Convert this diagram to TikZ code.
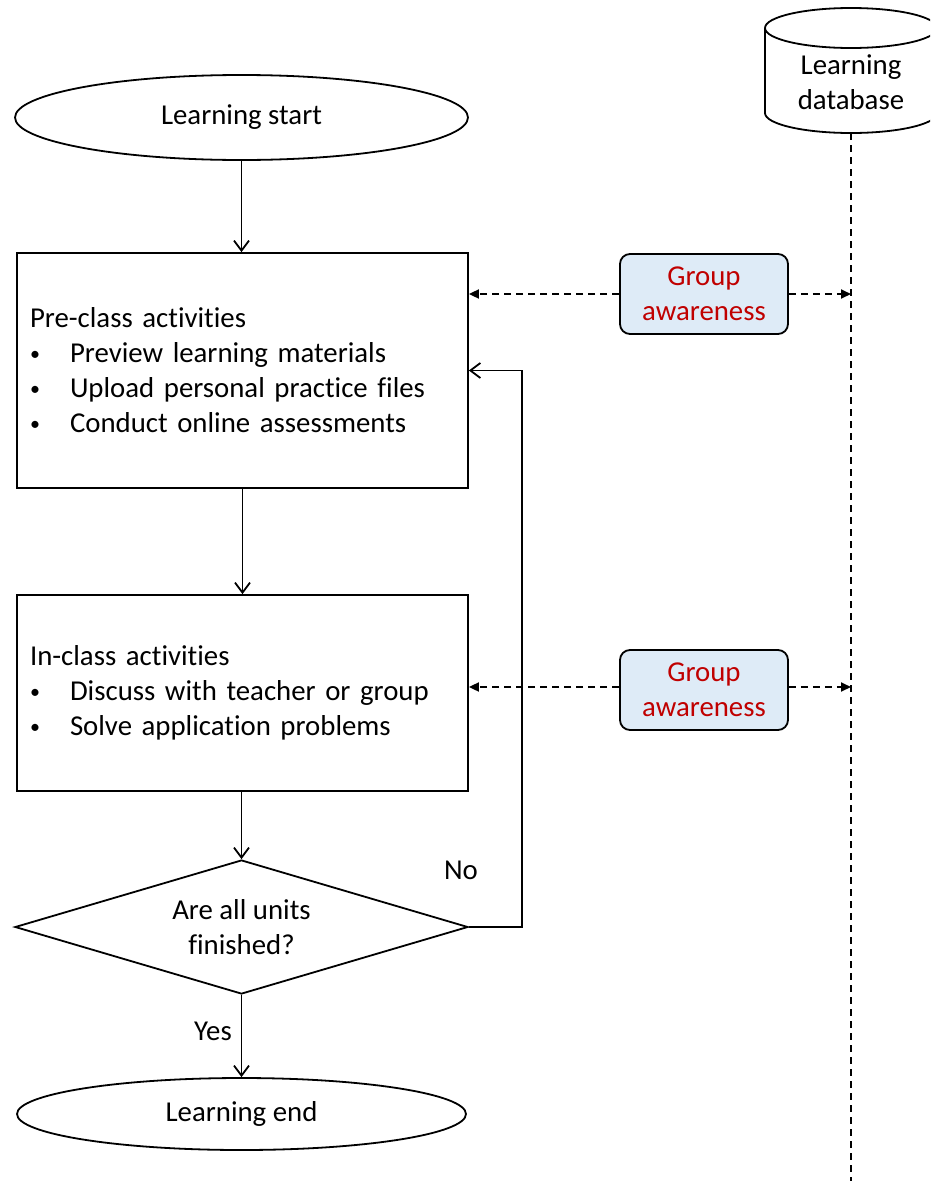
\documentclass[tikz,border=0pt]{standalone}
\usepackage{fontspec}
\setmainfont{Carlito}[Ligatures={NoCommon}]
\usetikzlibrary{arrows.meta,shapes.geometric}
\definecolor{gablue}{HTML}{DEEBF7}
\definecolor{gared}{HTML}{C00000}
\newcommand{\bitem}[1]{\\\hspace*{0pt}\makebox[40pt][l]{\raisebox{2.5pt}{\fontsize{20}{20}\selectfont •}}#1}
\begin{document}
\begin{tikzpicture}[x=1pt,y=-1pt,
  every node/.style={font=\fontsize{28.8}{35}\selectfont},
  lw/.style={line width=1.8pt},
  term/.style={draw,lw,ellipse,inner sep=0pt},
  actbox/.style={draw,lw,rectangle,minimum width=451,text width=425,inner xsep=13pt,align=left},
  decbox/.style={draw,lw,diamond,minimum width=453,minimum height=134,inner sep=0pt,aspect=3.4,align=center},
  gabox/.style={draw,lw,rounded corners=10pt,fill=gablue,text=gared,minimum width=168,minimum height=80,align=center},
  arr/.style={lw,-{Straight Barb[length=10pt,width=15pt]}},
  dasharr/.style={lw,dash pattern=on 7pt off 5pt,-{Triangle[length=10pt,width=9pt]}},
  dashln/.style={lw,dash pattern=on 7pt off 5pt}
]
\useasboundingbox (0,0) rectangle (930,1181);
\clip (0,0) rectangle (930,1181);

% database cylinder
\draw[lw] (765,28) -- (765,113) arc[start angle=180,end angle=0,x radius=86,y radius=20] -- (937,28);
\draw[lw] (851,28) ellipse [x radius=86, y radius=20];
\node[align=center] (db) at (851,82) {Learning\\database};
\coordinate (dbbot) at (851,133);
\coordinate (dbend) at (851,1181);
\draw[dashln] (dbbot) -- (dbend);

% main flow
\node[term,minimum width=453,minimum height=85] (start) at (241.5,117.5) {Learning start};
\node[actbox,minimum height=235] (pre) at (242.5,370.5) {Pre-class activities%
  \bitem{Preview learning materials}%
  \bitem{Upload personal practice files}%
  \bitem{Conduct online assessments}};
\node[actbox,minimum height=196] (in) at (242.5,693) {In-class activities%
  \bitem{Discuss with teacher or group}%
  \bitem{Solve application problems}};
\node[decbox] (dec) at (241.5,927) {Are all units\\finished?};
\node[term,minimum width=449,minimum height=72] (end) at (241.5,1114) {Learning end};

\draw[arr] (start.south) -- (start.south |- pre.north);
\draw[arr] (pre.south) -- (pre.south |- in.north);
\draw[arr] (in.south -| dec.north) -- (dec.north);
\draw[arr] (dec.south) -- (end.north);
\node (yes) at (213,1031) {Yes};
\draw[arr] (dec.east) -- ++(53,0) |- (pre.east);
\node (no) at (461,870) {No};

% group awareness
\node[gabox] (ga1) at (704,294) {Group\\awareness};
\node[gabox] (ga2) at (704,690) {Group\\awareness};
\draw[dasharr] (ga1.west) -- (ga1.west -| pre.east);
\draw[dasharr] (ga1.east) -- (ga1.east -| dbbot);
\draw[dasharr] ([yshift=3pt]ga2.west) -- ([yshift=3pt]ga2.west -| in.east);
\draw[dasharr] ([yshift=3pt]ga2.east) -- ([yshift=3pt]ga2.east -| dbbot);
\end{tikzpicture}
\end{document}
